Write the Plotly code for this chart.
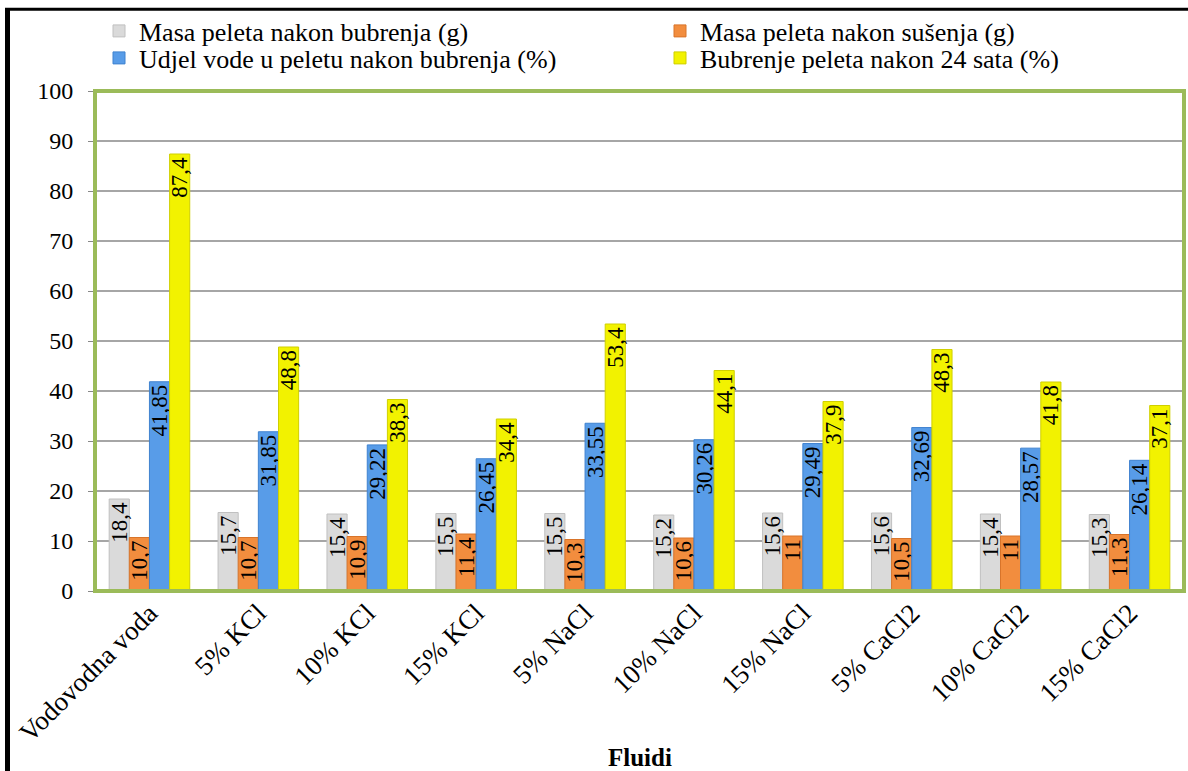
import plotly.graph_objects as go

categories = ["Vodovodna voda", "5% KCl", "10% KCl", "15% KCl", "5% NaCl",
              "10% NaCl", "15% NaCl", "5% CaCl2", "10% CaCl2", "15% CaCl2"]
masa_bubrenja = [18.4, 15.7, 15.4, 15.5, 15.5, 15.2, 15.6, 15.6, 15.4, 15.3]
masa_susenja = [10.7, 10.7, 10.9, 11.4, 10.3, 10.6, 11, 10.5, 11, 11.3]
udjel_vode = [41.85, 31.85, 29.22, 26.45, 33.55, 30.26, 29.49, 32.69, 28.57, 26.14]
bubrenje_24h = [87.4, 48.8, 38.3, 34.4, 53.4, 44.1, 37.9, 48.3, 41.8, 37.1]

series = [
    ("Masa peleta nakon bubrenja (g)", masa_bubrenja, "#DADADA", "#C0C0C0"),
    ("Masa peleta nakon sušenja (g)", masa_susenja, "#F28D3E", "#D8742A"),
    ("Udjel vode u peletu nakon bubrenja (%)", udjel_vode, "#589CE8", "#3F82CF"),
    ("Bubrenje peleta nakon 24 sata (%)", bubrenje_24h, "#F2F200", "#CFCF00"),
]
legend_ids = ["legend", "legend2", "legend3", "legend4"]

SERIF = "Times New Roman, Liberation Serif, serif"

def fmt(v):
    return ("%g" % v).replace(".", ",")

fig = go.Figure()
for (name, vals, col, edge), leg in zip(series, legend_ids):
    fig.add_trace(go.Bar(
        name=name, x=categories, y=vals, legend=leg, showlegend=True,
        marker=dict(color=col, line=dict(color=edge, width=1)),
        text=[fmt(v) for v in vals],
        textposition="inside", insidetextanchor="end", textangle=-90,
        constraintext="none",
        textfont=dict(family=SERIF, size=23, color="black"),
    ))

W, H = 1188, 771
ml, mr, mt, mb = 95, 4, 91, 180
pw, ph = W - ml - mr, H - mt - mb

def px2x(px):
    return (px - ml) / pw

def py2y(py):
    return (H - mb - py) / ph

legend_common = dict(
    orientation="h", xanchor="left", yanchor="middle",
    font=dict(family=SERIF, size=26, color="black"), itemwidth=30,
    bgcolor="rgba(0,0,0,0)", borderwidth=0, visible=True,
)
# legend anchor pixels (x of box left, y of row centre)
legend_pos = [(99, 31), (660, 31), (99, 58), (660, 58)]
legends = {}
for leg, (lx, ly) in zip(legend_ids, legend_pos):
    legends[leg] = dict(x=px2x(lx), y=py2y(ly), **legend_common)

fig.update_layout(
    width=W, height=H, showlegend=True,
    margin=dict(l=ml, r=mr, t=mt, b=mb, autoexpand=False),
    paper_bgcolor="white", plot_bgcolor="white",
    barmode="group", bargap=0.26, bargroupgap=0,
    font=dict(family=SERIF, size=23, color="black"),
    uniformtext=dict(minsize=21, mode="show"),
    xaxis=dict(
        tickangle=-45, tickfont=dict(family=SERIF, size=27),
        showline=False, ticks="", automargin=False,
    ),
    yaxis=dict(
        range=[0, 100], dtick=10, showgrid=True, gridcolor="#A6A6A6", gridwidth=2,
        ticks="outside", ticklen=6, tickcolor="#888888", automargin=False,
        ticklabelstandoff=10,
        tickfont=dict(family=SERIF, size=24),
        showline=False, zeroline=False,
    ),
    annotations=[
        dict(text="<b>Fluidi</b>", xref="paper", yref="paper", x=0.5, y=py2y(757),
             xanchor="center", yanchor="middle", showarrow=False,
             font=dict(family=SERIF, size=25, color="black")),
    ],
    shapes=[
        dict(type="rect", xref="paper", yref="paper", x0=0, x1=1, y0=0, y1=1,
             line=dict(color="#9BBB59", width=4), layer="above"),
        dict(type="line", xref="paper", yref="paper",
             x0=px2x(7.5), x1=px2x(7.5), y0=py2y(780), y1=py2y(8),
             line=dict(color="black", width=5), layer="above"),
        dict(type="line", xref="paper", yref="paper",
             x0=px2x(5), x1=px2x(1200), y0=py2y(9.3), y1=py2y(9.3),
             line=dict(color="black", width=3), layer="above"),
    ],
    **legends,
)

fig.write_html("out.html", config={"displayModeBar": False},
               post_script="document.body.style.margin='0';document.body.style.overflow='hidden';")
